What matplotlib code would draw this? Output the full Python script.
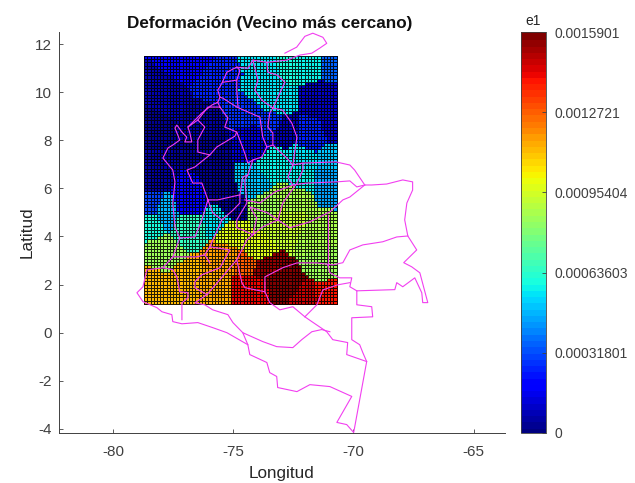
import numpy as np
import matplotlib
matplotlib.use("Agg")
import matplotlib.pyplot as plt
from matplotlib.colors import ListedColormap

plt.rcParams['font.family'] = ['Liberation Sans', 'DejaVu Sans']

# Strain field: nearest-neighbour sites (lon, lat, e1)
site_lon = [-76.8,-78.05,-76.2,-75.55,-72.65,-71.85,-73.7,-71.0,-71.4,-70.75,-73.25,-73.9,-74.5,-72.95,-71.8,-73.45,-72.2,-70.9,-73.2,-74.2,-76.1,-75.55,-78.45,-78.45,-76.8,-78.45,-77.9,-78.45,-76.8,-75.65,-77.9,-75.15,-74.2,-73.77,-72.35,-71.0,-72.65,-72.85,-71.5,-71.2,-75.45,-77.0,-75.85,-75.0,-74.0,-73.8,-74.3,-72.85,-72.02,-71.1,-78.45,-74.35]
site_lat = [11.5,9.65,8.6,10.5,11.3,11.3,11.1,11.3,9.65,8.6,9.65,10.1,9.25,8.4,8.2,8.7,7.2,7.2,7.0,8.0,7.7,5.95,8.85,6.5,5.5,5.2,5.0,4.6,4.4,4.7,3.3,4.2,6.1,5.3,6.5,6.45,5.75,4.5,4.0,2.95,3.15,2.2,2.0,5.3,3.3,2.82,1.9,1.99,1.37,1.45,2.0,2.9]
site_e1 = [.00018,.00008,.00007,.00025,.00062,.00058,.00055,.00035,.0001,.00012,.00056,.00055,.00028,.00008,.00025,.00028,.00055,.00052,.00058,.00013,.00004,.00003,.00004,.00006,.00022,.0003,.00048,.00062,.00066,.00055,.00085,.00097,.0005,.00085,.00058,.00045,.00088,.00092,.00088,.00085,.00118,.00112,.00115,.00004,.00098,.00155,.00142,.00159,.00148,.0014,.00112,.00128]

grid_lon = np.linspace(-78.7, -70.7, 61)
grid_lat = np.linspace(1.2, 11.5, 78)
e1_max = 0.0015901
cbar_ticks = [0, 0.00031801, 0.00063603, 0.00095404, 0.0012721, 0.0015901]
cbar_labels = ['0', '0.00031801', '0.00063603', '0.00095404', '0.0012721', '0.0015901']

# Department boundaries of Colombia, traced as (lon, lat) paths
outline = [(-72.85,11.62),(-72.36,11.87),(-72.14,12.16),(-72.02,12.32),(-71.69,12.45),(-71.27,12.28),(-71.11,12.03),(-71.40,11.83),(-71.73,11.62),(-72.23,11.54),(-72.77,11.33),(-73.6,11.24),(-74.18,11.33),(-74.39,10.99),(-74.85,11.04),(-75.26,10.83),(-75.47,10.37),(-75.64,10.08),(-75.55,9.79),(-75.64,9.58),(-75.89,9.46),(-76.30,9.13),(-76.88,8.55),(-76.80,8.30),(-76.72,7.93),(-77.01,7.93),(-76.93,8.13),(-77.13,8.34),(-77.34,8.63),(-77.42,8.51),(-77.22,8.01),(-77.51,7.80),(-77.71,7.68),(-77.92,7.26),(-77.51,6.76),(-77.42,6.27),(-77.51,5.39),(-77.42,4.40),(-77.22,3.94),(-77.51,3.15),(-77.92,2.70),(-78.59,2.61),(-78.75,1.91),(-79.0,1.66),(-78.75,1.29),(-78.17,1.04),(-77.96,.87),(-77.55,.75),(-77.51,.46),(-77.13,.37),(-76.47,.42),(-75.85,.21),(-75.26,0),(-74.39,-0.50),(-74.31,-0.91),(-73.6,-1.24),(-73.48,-1.66),(-73.19,-1.82),(-73.15,-2.28),(-72.35,-2.45),(-71.81,-2.16),(-70.98,-2.24),(-70.07,-2.65),(-70.69,-3.73),(-70.28,-3.82),(-69.99,-4.15),(-69.45,-1.20),(-69.61,-.83),(-69.74,-.50),(-70.07,-.29),(-70.07,.62),(-69.20,.66),(-69.24,1.08),(-69.86,1.16),(-69.86,1.74),(-68.28,1.79),(-68.2,2.08),(-67.95,1.91),(-67.45,2.28),(-67.16,1.66),(-67.12,1.25),(-66.91,1.25),(-67.24,2.49),(-67.58,2.74),(-67.91,2.91),(-67.37,3.44),(-67.74,4.02),(-67.87,4.69),(-67.78,5.39),(-67.54,5.93),(-67.54,6.27),(-67.95,6.35),(-68.62,6.18),(-69.24,6.14),(-69.53,6.14),(-69.95,6.76),(-70.15,6.97),(-70.73,7.10),(-72.1,7.05),(-72.52,6.97),(-72.35,8.13),(-72.56,8.71),(-72.94,9.25),(-73.35,9.34),(-72.85,10.41),(-73.15,10.70),(-73.56,10.83),(-73.6,11.24)]
inner = [
 [(-74.18,11.33),(-73.97,10.5),(-74.1,10.08),(-73.81,9.67),(-73.35,9.34)],
 [(-75.55,9.79),(-75.43,9.75),(-74.85,9.38),(-73.89,8.96),(-73.77,8.13),(-73.6,7.72),(-73.81,7.3),(-74.18,7.18),(-74.39,6.56),(-74.52,6.35),(-74.43,5.39),(-74.85,4.69),(-74.85,4.36),(-74.6,4.27),(-74.18,4.07),(-74.02,4.77),(-74.31,5.23),(-73.56,4.98),(-73.14,4.69),(-72.65,4.36),(-71.81,4.61),(-70.98,5.02),(-70.44,5.52),(-70.15,5.64),(-69.53,6.14)],
 [(-74.85,11.04),(-74.72,10.91),(-74.85,10.5),(-75.43,10.41)],
 [(-74.85,10.5),(-74.85,10.08),(-74.8,9.38)],
 [(-75.64,9.58),(-75.55,9.38),(-76.05,9.38),(-76.47,8.84),(-76.18,8.55),(-76.47,8.01),(-76.47,7.51),(-75.97,7.39),(-75.68,7.72),(-74.93,8.17),(-74.85,8.34),(-75.35,8.55),(-75.22,8.92),(-75.55,9.38)],
 [(-76.47,8.84),(-76.88,8.55)],
 [(-74.85,8.34),(-74.52,7.47),(-74.39,7.05),(-74.18,7.18)],
 [(-73.35,9.34),(-73.48,9.13),(-73.56,8.55),(-73.35,8.3),(-73.35,7.8),(-72.77,7.26),(-72.52,6.97)],
 [(-73.35,7.8),(-73.6,7.72)],
 [(-75.97,7.39),(-76.59,6.89),(-76.92,6.76),(-76.68,6.22),(-76.30,6.22),(-76.05,5.52),(-76.3,4.69),(-76.59,3.98),(-77.22,3.94)],
 [(-76.05,5.52),(-75.85,4.98),(-75.47,4.69),(-75.0,5.1),(-74.72,5.39),(-74.72,5.73),(-75.64,5.52),(-76.05,5.52)],
 [(-74.72,5.73),(-74.6,6.47),(-74.39,6.56)],
 [(-75.47,4.69),(-75.97,3.57),(-76.18,3.24),(-75.97,2.9)],
 [(-74.18,4.07),(-74.43,3.86),(-74.85,3.03),(-76.09,1.58),(-76.59,1.87),(-76.59,2.12),(-76.3,2.41),(-75.55,2.7),(-75.14,3.44),(-75.97,3.57)],
 [(-77.51,3.15),(-77.22,3.15),(-76.51,3.15),(-76.18,3.24)],
 [(-77.92,2.70),(-77.51,2.62),(-77.34,2.32),(-77.22,1.7),(-76.88,1.66),(-76.88,1.45),(-77.13,1.24),(-77.13,.54)],
 [(-76.09,1.58),(-76.59,1.24),(-76.18,1.16),(-75.85,.95),(-75.22,.75),(-75.01,.42),(-74.6,0),(-74.39,-.50)],
 [(-74.6,0),(-73.77,-.37),(-73.19,-.58),(-72.52,-.62),(-72.15,-.29),(-71.73,.04),(-71.32,.13),(-70.98,.04)],
 [(-74.85,3.03),(-74.64,2.08),(-74.51,1.87),(-73.68,1.7),(-73.48,1.25),(-73.06,.95),(-72.52,1.08),(-72.02,.66),(-71.73,.46),(-71.11,.04),(-70.86,-.29),(-70.24,-.41),(-70.28,-.91),(-69.45,-1.20)],
 [(-72.02,.66),(-71.52,1.16),(-71.27,1.78),(-70.65,1.99),(-70.15,2.08)],
 [(-69.86,1.74),(-70.15,1.91),(-70.07,2.28),(-70.57,2.28),(-70.98,2.49),(-71.07,2.82)],
 [(-73.68,1.7),(-73.68,2.32),(-72.94,2.7),(-72.35,2.9),(-71.52,2.9),(-70.86,2.82),(-70.44,2.91),(-70.15,3.44),(-69.61,3.65),(-68.78,3.78),(-68.2,3.98),(-67.74,4.02)],
 [(-71.07,4.9),(-71.07,2.82)],
 [(-73.14,4.69),(-72.94,5.39),(-72.35,6.22),(-72.1,6.76),(-72.1,7.05)],
 [(-74.52,5.52),(-73.89,5.39),(-73.27,5.85),(-72.52,6.14),(-71.94,6.22),(-70.69,6.27),(-70.15,6.31),(-69.86,6.06),(-69.53,6.14)],
 [(-74.18,4.07),(-73.77,4.4),(-73.14,4.69)],
 [(-72.52,6.97),(-72.73,6.47),(-72.52,6.14)],
]

jet64 = ListedColormap(plt.get_cmap('jet')(np.linspace(0, 1, 64)))

# nearest-neighbour interpolation of the sites onto the cell centres
cx = 0.5 * (grid_lon[:-1] + grid_lon[1:])
cy = 0.5 * (grid_lat[:-1] + grid_lat[1:])
X, Y = np.meshgrid(cx, cy)
sx, sy, sv = np.array(site_lon), np.array(site_lat), np.array(site_e1)
d = (X[..., None] - sx) ** 2 + (Y[..., None] - sy) ** 2
Z = sv[np.argmin(d, axis=-1)]

W, H = 635, 483
fig = plt.figure(figsize=(W / 100, H / 100), dpi=100)
ax = fig.add_axes([59 / W, 1 - 433 / H, (505 - 59) / W, (433 - 32) / H])
mesh = ax.pcolormesh(grid_lon, grid_lat, Z, cmap=jet64, vmin=0, vmax=e1_max,
                     edgecolors=(0, 0, 0, 0.85), linewidth=0.6)
col = '#f23ff0'
ox, oy = zip(*outline)
ax.plot(ox, oy, color=col, lw=0.8)
for path in inner:
    px, py = zip(*path)
    ax.plot(px, py, color=col, lw=0.8)

ax.set_xlim(-82.24, -63.7)
ax.set_ylim(-4.17, 12.5)
ax.set_xticks([-80, -75, -70, -65])
ax.set_yticks(range(-4, 13, 2))
ax.set_xticklabels(['-80', '-75', '-70', '-65'])
ax.set_yticklabels([str(v) for v in range(-4, 13, 2)])
ax.tick_params(axis='x', pad=9)
ax.tick_params(direction='in', length=3, width=0.6, color='#404040',
               labelcolor='#404040', labelsize=11)
ax.tick_params(axis='y', pad=5)
for s in ('top', 'right'):
    ax.spines[s].set_visible(False)
for s in ('left', 'bottom'):
    ax.spines[s].set_color('#404040')
    ax.spines[s].set_linewidth(0.7)
ax.set_xlabel('Longitud', fontsize=12.3, color='#262626', labelpad=5)
ax.set_ylabel('Latitud', fontsize=12.3, color='#262626', labelpad=0)
ax.set_title('Deformación (Vecino más cercano)', fontsize=12.3, fontweight='bold',
             color='#111111', pad=3, x=(270 - 59) / (505 - 59))

cax = fig.add_axes([521 / W, 1 - 433 / H, 25 / W, (433 - 32) / H])
cb = fig.colorbar(mesh, cax=cax, ticks=cbar_ticks)
cb.solids.set_edgecolor('face')
cb.ax.set_yticklabels(cbar_labels)
cb.ax.tick_params(direction='in', length=3, width=0.6, color='#404040',
                  labelcolor='#404040', labelsize=10, pad=6)
cb.outline.set_edgecolor('#404040')
cb.outline.set_linewidth(0.6)
cax.set_title('e1', fontsize=10, color='#262626', pad=5)

fig.savefig('out.png', dpi=100)
